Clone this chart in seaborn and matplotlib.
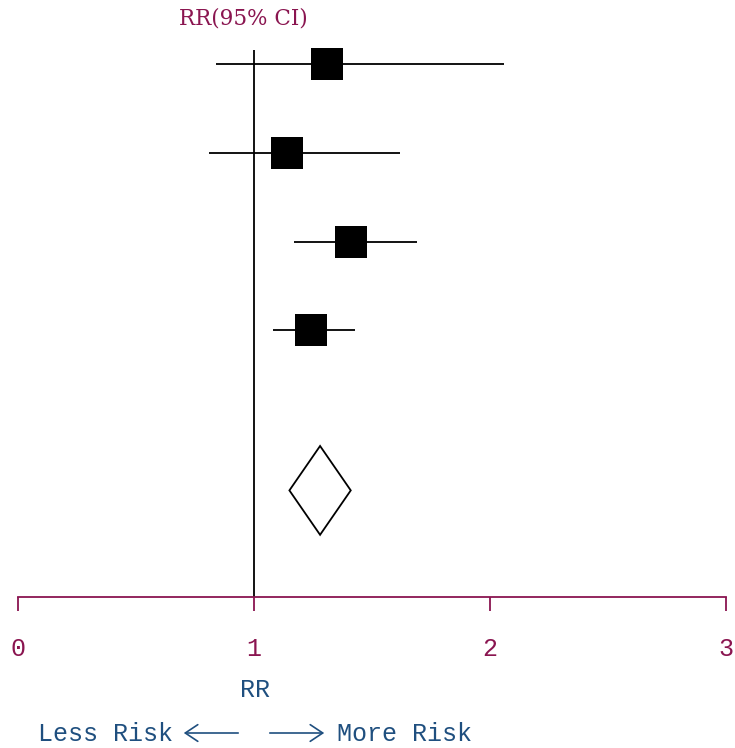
import matplotlib
matplotlib.use("Agg")
import matplotlib.pyplot as plt
from matplotlib.patches import Polygon, FancyArrowPatch
import seaborn as sns
import pandas as pd

# Data
rows = [1, 2, 3, 4]
estimates = [1.31, 1.14, 1.41, 1.24]
lower = [0.84, 0.81, 1.17, 1.08]
upper = [2.06, 1.62, 1.69, 1.43]
pooled_est = 1.28
pooled_low = 1.15
pooled_high = 1.41
xticks = [0, 1, 2, 3]
xticklabels = ["0", "1", "2", "3"]

sns.set_style("white")
MAROON = "#8a1550"
BLUE = "#1f4f7f"

W, H = 735, 748
fig = plt.figure(figsize=(W / 100, H / 100), dpi=100)
left, right, top, bottom = 18, 726, 40, 597
ax = fig.add_axes([left / W, 1 - bottom / H, (right - left) / W, (bottom - top) / H])

df = pd.DataFrame({"row": rows, "est": estimates, "lo": lower, "hi": upper})

ax.set_xlim(0, 3)
ax.set_ylim(7.0, 0.73)

ax.vlines(1, 0.84, 7.0, color="black", lw=1.3, zorder=1)
ax.hlines(df["row"], df["lo"], df["hi"], color="black", lw=1.3, zorder=2)
sns.scatterplot(data=df, x="est", y="row", marker="s", s=540, color="black",
                edgecolor="black", linewidth=0, ax=ax, zorder=3, legend=False)

pooled_y = 5.8
diamond = Polygon([[pooled_low, pooled_y], [pooled_est, pooled_y - 0.5],
                   [pooled_high, pooled_y], [pooled_est, pooled_y + 0.5]],
                  closed=True, facecolor="white", edgecolor="black", lw=1.3, zorder=3)
ax.add_patch(diamond)

for s in ["top", "left", "right"]:
    ax.spines[s].set_visible(False)
ax.spines["bottom"].set_color(MAROON)
ax.spines["bottom"].set_linewidth(1.3)
ax.set_yticks([])
ax.set_xticks(xticks)
ax.set_xticklabels(xticklabels, family="Liberation Mono", fontsize=18, color=MAROON)
ax.tick_params(axis="x", direction="out", length=10, width=1.3, color=MAROON, pad=19,
               bottom=True)
ax.set_xlabel("")
ax.set_ylabel("")
ax.patch.set_alpha(0)

def fx(px):
    return px / W

def fy(py):
    return 1 - py / H

fig.text(fx(243), fy(18), "RR(95% CI)", family="DejaVu Serif", fontsize=15.5,
         color=MAROON, ha="center", va="center")
fig.text(fx(255), fy(690), "RR", family="Liberation Mono", fontsize=18,
         color=BLUE, ha="center", va="center")
fig.text(fx(173), fy(741), "Less Risk", family="Liberation Mono", fontsize=18,
         color=BLUE, ha="right", va="baseline")
fig.text(fx(337), fy(741), "More Risk", family="Liberation Mono", fontsize=18,
         color=BLUE, ha="left", va="baseline")
fig.add_artist(FancyArrowPatch((fx(241), fy(733)), (fx(181), fy(733)),
               transform=fig.transFigure, arrowstyle="->,head_length=9,head_width=6",
               color=BLUE, lw=1.2, mutation_scale=1))
fig.add_artist(FancyArrowPatch((fx(267), fy(733)), (fx(327), fy(733)),
               transform=fig.transFigure, arrowstyle="->,head_length=9,head_width=6",
               color=BLUE, lw=1.2, mutation_scale=1))

fig.savefig("out.png", dpi=100, facecolor="white")
